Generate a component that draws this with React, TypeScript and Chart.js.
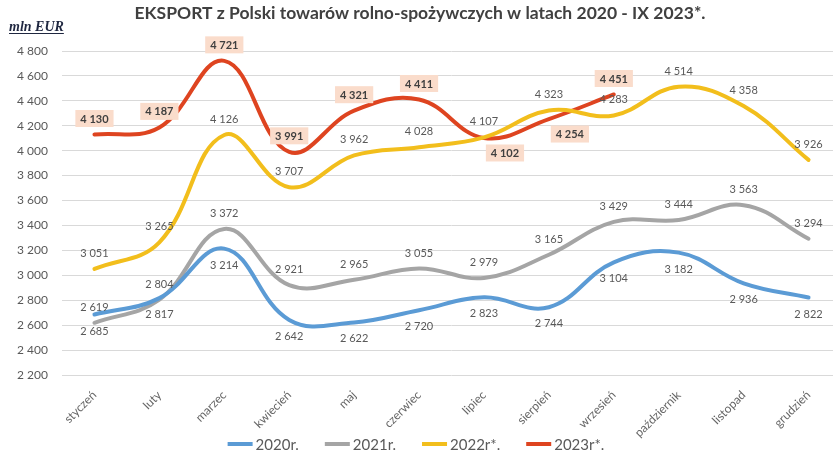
import React, { useEffect, useRef } from "react";
import { Chart, registerables } from "chart.js";

Chart.register(...registerables);

const titleText = "EKSPORT z Polski towarów rolno-spożywczych w latach 2020 - IX 2023*.";
const unitText = "mln EUR";

const months = [
  "styczeń", "luty", "marzec", "kwiecień", "maj", "czerwiec",
  "lipiec", "sierpień", "wrzesień", "październik", "listopad", "grudzień",
];

const seriesNames = ["2020r.", "2021r.", "2022r*.", "2023r*."];

const values2020 = [2685, 2817, 3214, 2642, 2622, 2720, 2823, 2744, 3104, 3182, 2936, 2822];
const values2021 = [2619, 2804, 3372, 2921, 2965, 3055, 2979, 3165, 3429, 3444, 3563, 3294];
const values2022 = [3051, 3265, 4126, 3707, 3962, 4028, 4107, 4323, 4283, 4514, 4358, 3926];
const values2023 = [4130, 4187, 4721, 3991, 4321, 4411, 4102, 4254, 4451];

const yMin = 2200;
const yMax = 4800;
const yStep = 200;

// styling
const colors = ["#5B9BD5", "#A5A5A5", "#F2BE1C", "#DE4420"];
const placements2020 = months.map(() => "below");
const placements2021 = months.map(() => "above");
const placements2022 = months.map(() => "above");
const placements2023 = ["above", "above", "above", "above", "above", "above", "belowRight", "belowRight", "above"];
const placements = [placements2020, placements2021, placements2022, placements2023];
const highlighted = [false, false, false, true];

const FONT = "Lato, 'Open Sans', sans-serif";
const GRAY_TEXT = "#595959";

const fmt = (v: number) => String(v).replace(/\B(?=(\d{3})+(?!\d))/g, " ");

const overlayPlugin = {
  id: "overlay",
  afterDatasetsDraw(chart: any) {
    const ctx = chart.ctx as CanvasRenderingContext2D;
    ctx.save();
    chart.data.datasets.forEach((ds: any, di: number) => {
      const meta = chart.getDatasetMeta(di);
      const hl = highlighted[di];
      ctx.font = `${hl ? "bold " : ""}11px ${FONT}`;
      ctx.textAlign = "center";
      ctx.textBaseline = "middle";
      meta.data.forEach((pt: any, i: number) => {
        const v = ds.data[i];
        if (v == null) return;
        const place = placements[di][i];
        let dx = 0;
        let dy = -16;
        if (place === "below") dy = 16;
        if (place === "belowRight") {
          dx = 21;
          dy = 15;
        }
        const x = pt.x + dx;
        const y = pt.y + dy;
        const t = fmt(v);
        if (hl) {
          const w = ctx.measureText(t).width;
          ctx.fillStyle = "#FADCCB";
          ctx.fillRect(x - w / 2 - 5, y - 8.5, w + 10, 17);
          ctx.fillStyle = "#3F3F3F";
        } else {
          ctx.fillStyle = GRAY_TEXT;
        }
        ctx.fillText(t, x, y + 0.5);
      });
    });
    ctx.restore();
  },
  afterDraw(chart: any) {
    const ctx = chart.ctx as CanvasRenderingContext2D;
    ctx.save();
    // title
    ctx.font = `bold 17.5px ${FONT}`;
    ctx.fillStyle = "#404040";
    ctx.textAlign = "center";
    ctx.textBaseline = "alphabetic";
    ctx.fillText(titleText, 420, 19);
    // unit
    ctx.font = "italic bold 14px 'Liberation Serif', serif";
    ctx.fillStyle = "#1F2740";
    ctx.textAlign = "left";
    ctx.fillText(unitText, 9, 31);
    const uw = ctx.measureText(unitText).width;
    ctx.fillRect(9, 33, uw, 1);
    // legend
    ctx.font = `15px ${FONT}`;
    ctx.textBaseline = "middle";
    const sample = 25;
    const gap = 3;
    const itemGap = 26;
    const widths = chart.data.datasets.map((ds: any) => ctx.measureText(ds.label).width);
    const total = widths.reduce((a: number, w: number) => a + sample + gap + w, 0) + itemGap * (widths.length - 1);
    let x = 416 - total / 2;
    const ly = 444;
    chart.data.datasets.forEach((ds: any, di: number) => {
      ctx.fillStyle = ds.borderColor;
      ctx.fillRect(x, ly - 2, sample, 4);
      x += sample + gap;
      ctx.fillStyle = GRAY_TEXT;
      ctx.fillText(ds.label, x, ly + 1);
      x += widths[di] + itemGap;
    });
    ctx.restore();
  },
};

export default function App() {
  const ref = useRef<HTMLCanvasElement | null>(null);
  useEffect(() => {
    if (!ref.current) return;
    const seriesValues = [values2020, values2021, values2022, values2023];
    const chart = new Chart(ref.current, {
      type: "line",
      data: {
        labels: months,
        datasets: seriesValues.map((vals, i) => ({
          label: seriesNames[i],
          data: vals,
          borderColor: colors[i],
          backgroundColor: colors[i],
          borderWidth: 4,
          pointRadius: 0,
          tension: 0.4,
          fill: false,
          borderCapStyle: "round" as const,
        })),
      },
      options: {
        responsive: false,
        animation: false,
        layout: { padding: { top: 51, left: 0, right: 1, bottom: 8 } },
        plugins: {
          legend: { display: false },
          title: { display: false },
          tooltip: { enabled: false },
        },
        scales: {
          x: {
            offset: true,
            grid: { display: false, drawTicks: false },
            border: { display: false },
            ticks: {
              autoSkip: false,
              minRotation: 45,
              maxRotation: 45,
              padding: 13,
              color: "#666666",
              font: { family: FONT, size: 12 },
            },
            afterFit(scale: any) {
              scale.height = 70;
            },
          },
          y: {
            min: yMin,
            max: yMax,
            grid: { color: "#D9D9D9", lineWidth: 1, drawTicks: false },
            border: { display: false },
            ticks: {
              stepSize: yStep,
              padding: 14,
              color: GRAY_TEXT,
              font: { family: FONT, size: 12 },
              callback: (v: any) => fmt(Number(v)),
            },
            afterFit(scale: any) {
              scale.width = 62;
            },
          },
        },
      },
      plugins: [overlayPlugin],
    });
    return () => chart.destroy();
  }, []);

  return (
    <div
      style={{
        position: "absolute",
        left: 0,
        top: 0,
        width: 833,
        height: 453,
        overflow: "hidden",
        background: "#fff",
      }}
    >
      <canvas ref={ref} width={842} height={453} style={{ display: "block" }} />
    </div>
  );
}
